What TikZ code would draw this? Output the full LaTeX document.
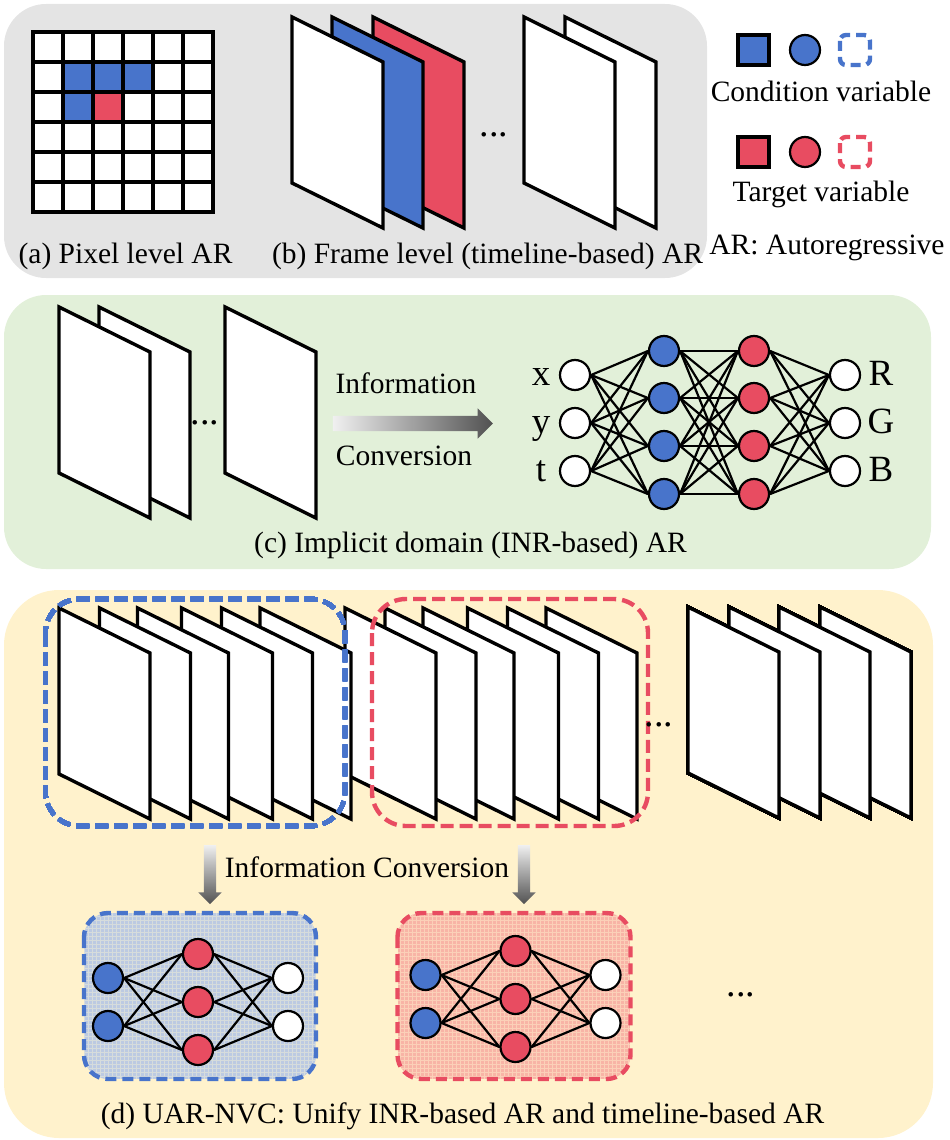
\documentclass[tikz,border=0pt]{standalone}
\usepackage{fontspec}
\setmainfont{Liberation Serif}
\usetikzlibrary{shapes.arrows}

\definecolor{condblue}{HTML}{4874CB}
\definecolor{targetred}{HTML}{E84C61}
\definecolor{panelgray}{HTML}{E4E4E4}
\definecolor{panelgreen}{HTML}{E2F0D9}
\definecolor{panelyellow}{HTML}{FFF2CC}
\definecolor{bluetint}{HTML}{BCCAE2}
\definecolor{bluemesh}{HTML}{D6DCDC}
\definecolor{redtint}{HTML}{F8B4A6}
\definecolor{redmesh}{HTML}{FBD0B8}

\tikzset{
    panel/.style={rounded corners=42pt},
    sheet/.style={draw=black, line width=3.4pt, miter limit=10},
    cell/.style={draw=black, line width=3.4pt},
    txt/.style={font=\fontsize{29.5}{32}\selectfont, inner sep=0pt, anchor=base},
    bigtxt/.style={font=\fontsize{37}{40}\selectfont, inner sep=0pt, anchor=base},
    dots/.style={font=\fontsize{38}{38}\selectfont, inner sep=0pt},
    neuron/.style={circle, draw=black, line width=2.2pt, minimum size=30pt, inner sep=0pt},
    wire/.style={line width=2.2pt, line cap=round},
    dashbox/.style={line width=4.4pt, dash pattern=on 13pt off 6pt, rounded corners=34pt},
    smallbox/.style={line width=4.4pt, dash pattern=on 11pt off 6pt, rounded corners=24pt},
    legendbox/.style={line width=4.4pt, dash pattern=on 10pt off 6pt, rounded corners=6pt},
    fade/.style={single arrow, draw=none},
    fadewide/.style={fade, inner sep=7.5pt, single arrow head extend=7.5pt,
        left color=black!6, right color=black!68},
    fadenarrow/.style={fade, inner sep=6pt, single arrow head extend=5.5pt,
        top color=black!6, bottom color=black!68},
}

% one slanted sheet: left edge x, top y, fill colour
\newcommand{\sheetat}[3]{
    \fill[#3] (#1,#2) -- ++(91,45) -- ++(0,166) -- ++(-91,-45) -- cycle;
    \draw[sheet] (#1,#2) -- ++(91,45) -- ++(0,166) -- ++(-91,-45) -- cycle;
}

% tinted rounded box with a fine mesh: left, right, tint, mesh, border
\newcommand{\meshbox}[5]{
    \begin{scope}
        \clip[rounded corners=24pt] (#1,913) rectangle (#2,1079);
        \fill[#3] (#1,913) rectangle (#2,1079);
        \draw[#4, line width=1pt, step=4pt] (#1,913) grid (#2,1079);
    \end{scope}
    \draw[smallbox, draw=#5] (#1,913) rectangle (#2,1079);
}

% small network: name prefix, input x, top y of the inputs
\newcommand{\smallnet}[3]{
    \foreach \i in {0,1} {
        \node[neuron, fill=condblue] (#1in\i) at (#2,#3+48*\i) {};
        \node[neuron, fill=white] (#1out\i) at (#2+180,#3+48*\i) {};
    }
    \foreach \j in {0,1,2}
        \node[neuron, fill=targetred] (#1mid\j) at (#2+90,#3-24+48*\j) {};
    \foreach \i in {0,1}
        \foreach \j in {0,1,2} {
            \draw[wire] (#1in\i.east) -- (#1mid\j.west);
            \draw[wire] (#1mid\j.east) -- (#1out\i.west);
        }
}

\begin{document}
\begin{tikzpicture}[x=1pt, y=-1pt]

    \useasboundingbox (0,0) rectangle (950,1140);

    % Background panels
    \fill[panelgray, panel] (4,4) rectangle (707,278);
    \fill[panelgreen, panel] (4,295) rectangle (931,569);
    \fill[panelyellow, rounded corners=55pt] (4,590) rectangle (933,1138);

    % (a) Pixel level grid
    \foreach \x in {0,...,5}
        \foreach \y in {0,...,5}
            \draw[cell, fill=white] (33+30*\x,32+30*\y) rectangle ++(30,30);
    \foreach \x/\y in {1/1,2/1,3/1,1/2}
        \draw[cell, fill=condblue] (33+30*\x,32+30*\y) rectangle ++(30,30);
    \draw[cell, fill=targetred] (93,92) rectangle ++(30,30);
    \node[txt] (capa) at (125.5,263) {(a) Pixel level AR};

    % (b) Frame level sheets, back to front
    \sheetat{373}{17}{targetred}
    \sheetat{332}{17}{condblue}
    \sheetat{292}{17}{white}
    \sheetat{565}{17}{white}
    \sheetat{524}{17}{white}
    \node[dots] (dotsb) at (494,135) {...};
    \node[txt] (capb) at (487.5,263) {(b) Frame level (timeline-based) AR};

    % Legend
    \draw[cell, fill=condblue] (738,35) rectangle (769,65);
    \node[neuron, fill=condblue] (legcond) at (805,50) {};
    \draw[legendbox, draw=condblue] (840,35) rectangle (870,65);
    \node[txt] (legcondtxt) at (821,101) {Condition variable};
    \draw[cell, fill=targetred] (738,137) rectangle (769,167);
    \node[neuron, fill=targetred] (legtarget) at (805,152) {};
    \draw[legendbox, draw=targetred] (840,137) rectangle (870,167);
    \node[txt] (legtargettxt) at (821,201) {Target variable};
    \node[txt] (legar) at (827,254) {AR: Autoregressive};

    % (c) Implicit domain
    \sheetat{99}{307}{white}
    \sheetat{59}{307}{white}
    \sheetat{225}{307}{white}
    \node[dots] (dotsc) at (205,423) {...};
    \node[txt] (infoc) at (406,393) {Information};
    \node[fadewide, minimum height=160pt] (arrowc) at (409,423.5) {};
    \node[txt] (convc) at (404,465) {Conversion};

    \foreach \y/\txt/\out [count=\i] in {375/x/R,423/y/G,471/t/B} {
        \node[neuron, fill=white] (in\i) at (575,\y) {};
        \node[neuron, fill=white] (out\i) at (845,\y) {};
        \node[bigtxt] (lab\txt) at (541,\y+10) {\txt};
        \node[bigtxt] (lab\out) at (881,\y+10) {\out};
    }
    \foreach \y [count=\j] in {351,398,446,494} {
        \node[neuron, fill=condblue] (hida\j) at (664,\y) {};
        \node[neuron, fill=targetred] (hidb\j) at (754,\y) {};
    }
    \foreach \i in {1,2,3}
        \foreach \j in {1,...,4} {
            \draw[wire] (in\i.east) -- (hida\j.west);
            \draw[wire] (hidb\j.east) -- (out\i.west);
        }
    \foreach \j in {1,...,4}
        \foreach \k in {1,...,4}
            \draw[wire] (hida\j.east) -- (hidb\k.west);
    \node[txt] (capc) at (470.5,552) {(c) Implicit domain (INR-based) AR};

    % (d) Sheets of the two groups, right to left
    \foreach \x in {546,507.5,467.5,423,385,345,260,221.5,181.5,137.5,99.5,59}
        \sheetat{\x}{608}{white}
    \foreach \x in {820,779,729,688}
        \sheetat{\x}{607}{white}
    \draw[dashbox, draw=condblue] (45.5,599) rectangle (345,826);
    \draw[dashbox, draw=targetred] (372,599) rectangle (648,826);
    \node[dots] (dotsd) at (659,725) {...};
    \node[dots] (dotse) at (741,995) {...};

    % Conversion arrows and text
    \node[fadenarrow, rotate=-90, minimum height=59pt] (arrowl) at (210,871.5) {};
    \node[fadenarrow, rotate=-90, minimum height=59pt] (arrowr) at (524,871.5) {};
    \node[txt] (infod) at (367,877) {Information Conversion};

    % Small networks
    \meshbox{84}{316}{bluetint}{bluemesh}{condblue}
    \smallnet{p}{108}{978}
    \meshbox{397.5}{630.5}{redtint}{redmesh}{targetred}
    \smallnet{q}{425.5}{975}

    \node[txt] (capd) at (462.5,1123) {(d) UAR-NVC: Unify INR-based AR and timeline-based AR};

\end{tikzpicture}
\end{document}
